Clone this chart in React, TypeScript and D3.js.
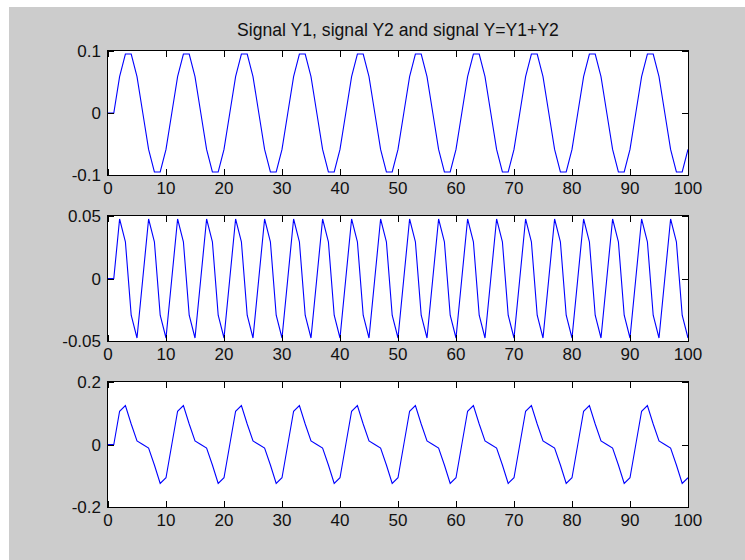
import React from "react";
import * as d3 from "d3";

const titleText = "Signal Y1, signal Y2 and signal Y=Y1+Y2";

const xTicks = [0, 10, 20, 30, 40, 50, 60, 70, 80, 90, 100];

const y1Ticks = [-0.1, 0, 0.1];
const y1TickLabels = ["-0.1", "0", "0.1"];
const y2Ticks = [-0.05, 0, 0.05];
const y2TickLabels = ["-0.05", "0", "0.05"];
const yTicks = [-0.2, 0, 0.2];
const yTickLabels = ["-0.2", "0", "0.2"];

const signalY1 = [
  0,
  0, 0.0588, 0.0951, 0.0951, 0.0588, 0, -0.0588, -0.0951, -0.0951, -0.0588,
  0, 0.0588, 0.0951, 0.0951, 0.0588, 0, -0.0588, -0.0951, -0.0951, -0.0588,
  0, 0.0588, 0.0951, 0.0951, 0.0588, 0, -0.0588, -0.0951, -0.0951, -0.0588,
  0, 0.0588, 0.0951, 0.0951, 0.0588, 0, -0.0588, -0.0951, -0.0951, -0.0588,
  0, 0.0588, 0.0951, 0.0951, 0.0588, 0, -0.0588, -0.0951, -0.0951, -0.0588,
  0, 0.0588, 0.0951, 0.0951, 0.0588, 0, -0.0588, -0.0951, -0.0951, -0.0588,
  0, 0.0588, 0.0951, 0.0951, 0.0588, 0, -0.0588, -0.0951, -0.0951, -0.0588,
  0, 0.0588, 0.0951, 0.0951, 0.0588, 0, -0.0588, -0.0951, -0.0951, -0.0588,
  0, 0.0588, 0.0951, 0.0951, 0.0588, 0, -0.0588, -0.0951, -0.0951, -0.0588,
  0, 0.0588, 0.0951, 0.0951, 0.0588, 0, -0.0588, -0.0951, -0.0951, -0.0588,
];

const signalY2 = [
  0,
  0, 0.0476, 0.0294, -0.0294, -0.0476, 0, 0.0476, 0.0294, -0.0294, -0.0476,
  0, 0.0476, 0.0294, -0.0294, -0.0476, 0, 0.0476, 0.0294, -0.0294, -0.0476,
  0, 0.0476, 0.0294, -0.0294, -0.0476, 0, 0.0476, 0.0294, -0.0294, -0.0476,
  0, 0.0476, 0.0294, -0.0294, -0.0476, 0, 0.0476, 0.0294, -0.0294, -0.0476,
  0, 0.0476, 0.0294, -0.0294, -0.0476, 0, 0.0476, 0.0294, -0.0294, -0.0476,
  0, 0.0476, 0.0294, -0.0294, -0.0476, 0, 0.0476, 0.0294, -0.0294, -0.0476,
  0, 0.0476, 0.0294, -0.0294, -0.0476, 0, 0.0476, 0.0294, -0.0294, -0.0476,
  0, 0.0476, 0.0294, -0.0294, -0.0476, 0, 0.0476, 0.0294, -0.0294, -0.0476,
  0, 0.0476, 0.0294, -0.0294, -0.0476, 0, 0.0476, 0.0294, -0.0294, -0.0476,
  0, 0.0476, 0.0294, -0.0294, -0.0476, 0, 0.0476, 0.0294, -0.0294, -0.0476,
];

const signalY = [
  0,
  0, 0.1064, 0.1245, 0.0657, 0.0112, 0, -0.0112, -0.0657, -0.1245, -0.1064,
  0, 0.1064, 0.1245, 0.0657, 0.0112, 0, -0.0112, -0.0657, -0.1245, -0.1064,
  0, 0.1064, 0.1245, 0.0657, 0.0112, 0, -0.0112, -0.0657, -0.1245, -0.1064,
  0, 0.1064, 0.1245, 0.0657, 0.0112, 0, -0.0112, -0.0657, -0.1245, -0.1064,
  0, 0.1064, 0.1245, 0.0657, 0.0112, 0, -0.0112, -0.0657, -0.1245, -0.1064,
  0, 0.1064, 0.1245, 0.0657, 0.0112, 0, -0.0112, -0.0657, -0.1245, -0.1064,
  0, 0.1064, 0.1245, 0.0657, 0.0112, 0, -0.0112, -0.0657, -0.1245, -0.1064,
  0, 0.1064, 0.1245, 0.0657, 0.0112, 0, -0.0112, -0.0657, -0.1245, -0.1064,
  0, 0.1064, 0.1245, 0.0657, 0.0112, 0, -0.0112, -0.0657, -0.1245, -0.1064,
  0, 0.1064, 0.1245, 0.0657, 0.0112, 0, -0.0112, -0.0657, -0.1245, -0.1064,
];

const W = 745;
const H = 560;
const LEFT = 108;
const RIGHT = 688;
const FONT = "'Liberation Sans', Arial, Helvetica, sans-serif";
const FS = 17;
const TITLE_FS = 17.6;
const TICK = 6;

const panels = [
  { data: signalY1, top: 51, bottom: 175, ticks: y1Ticks, labels: y1TickLabels },
  { data: signalY2, top: 216, bottom: 341, ticks: y2Ticks, labels: y2TickLabels },
  { data: signalY, top: 382, bottom: 507, ticks: yTicks, labels: yTickLabels },
];

function Panel({ p }: { p: (typeof panels)[number] }) {
  const x = d3.scaleLinear().domain([0, 100]).range([LEFT, RIGHT]);
  const y = d3
    .scaleLinear()
    .domain([p.ticks[0], p.ticks[p.ticks.length - 1]])
    .range([p.bottom, p.top]);
  const line = d3
    .line<number>()
    .x((_, i) => x(i))
    .y((d) => y(d));
  return (
    <g>
      <rect x={LEFT} y={p.top} width={RIGHT - LEFT} height={p.bottom - p.top} fill="#ffffff" />
      <path d={line(p.data) || ""} fill="none" stroke="#0000ff" strokeWidth={1.1} />
      <rect
        x={LEFT - 0.5}
        y={p.top - 0.5}
        width={RIGHT - LEFT + 1}
        height={p.bottom - p.top + 1}
        fill="none"
        stroke="#000000"
        strokeWidth={1}
      />
      {xTicks.map((t) => {
        const px = Math.round(x(t)) + 0.5;
        return (
          <g key={"x" + t}>
            <line x1={px} x2={px} y1={p.bottom} y2={p.bottom - TICK} stroke="#000" strokeWidth={1} />
            <line x1={px} x2={px} y1={p.top} y2={p.top + TICK} stroke="#000" strokeWidth={1} />
            <text
              x={x(t)}
              y={p.bottom + 19}
              textAnchor="middle"
              fontFamily={FONT}
              fontSize={FS}
              fill="#111"
            >
              {String(t)}
            </text>
          </g>
        );
      })}
      {p.ticks.map((t, i) => {
        const py = Math.round(y(t)) + 0.5;
        return (
          <g key={"y" + i}>
            <line x1={LEFT} x2={LEFT + TICK} y1={py} y2={py} stroke="#000" strokeWidth={1} />
            <line x1={RIGHT} x2={RIGHT - TICK} y1={py} y2={py} stroke="#000" strokeWidth={1} />
            <text
              x={LEFT - 7}
              y={y(t)}
              dy="0.36em"
              textAnchor="end"
              fontFamily={FONT}
              fontSize={FS}
              fill="#111"
            >
              {p.labels[i]}
            </text>
          </g>
        );
      })}
    </g>
  );
}

export default function App() {
  return (
    <svg
      width={W}
      height={H}
      style={{ position: "absolute", left: 0, top: 0, display: "block" }}
    >
      <rect x={0} y={0} width={W} height={H} fill="#ffffff" />
      <rect x={9} y={7} width={W - 9} height={H - 7} fill="#cccccc" />
      <text
        x={(LEFT + RIGHT) / 2}
        y={36}
        textAnchor="middle"
        fontFamily={FONT}
        fontSize={TITLE_FS}
        fill="#111"
      >
        {titleText}
      </text>
      {panels.map((p, i) => (
        <Panel key={i} p={p} />
      ))}
    </svg>
  );
}
